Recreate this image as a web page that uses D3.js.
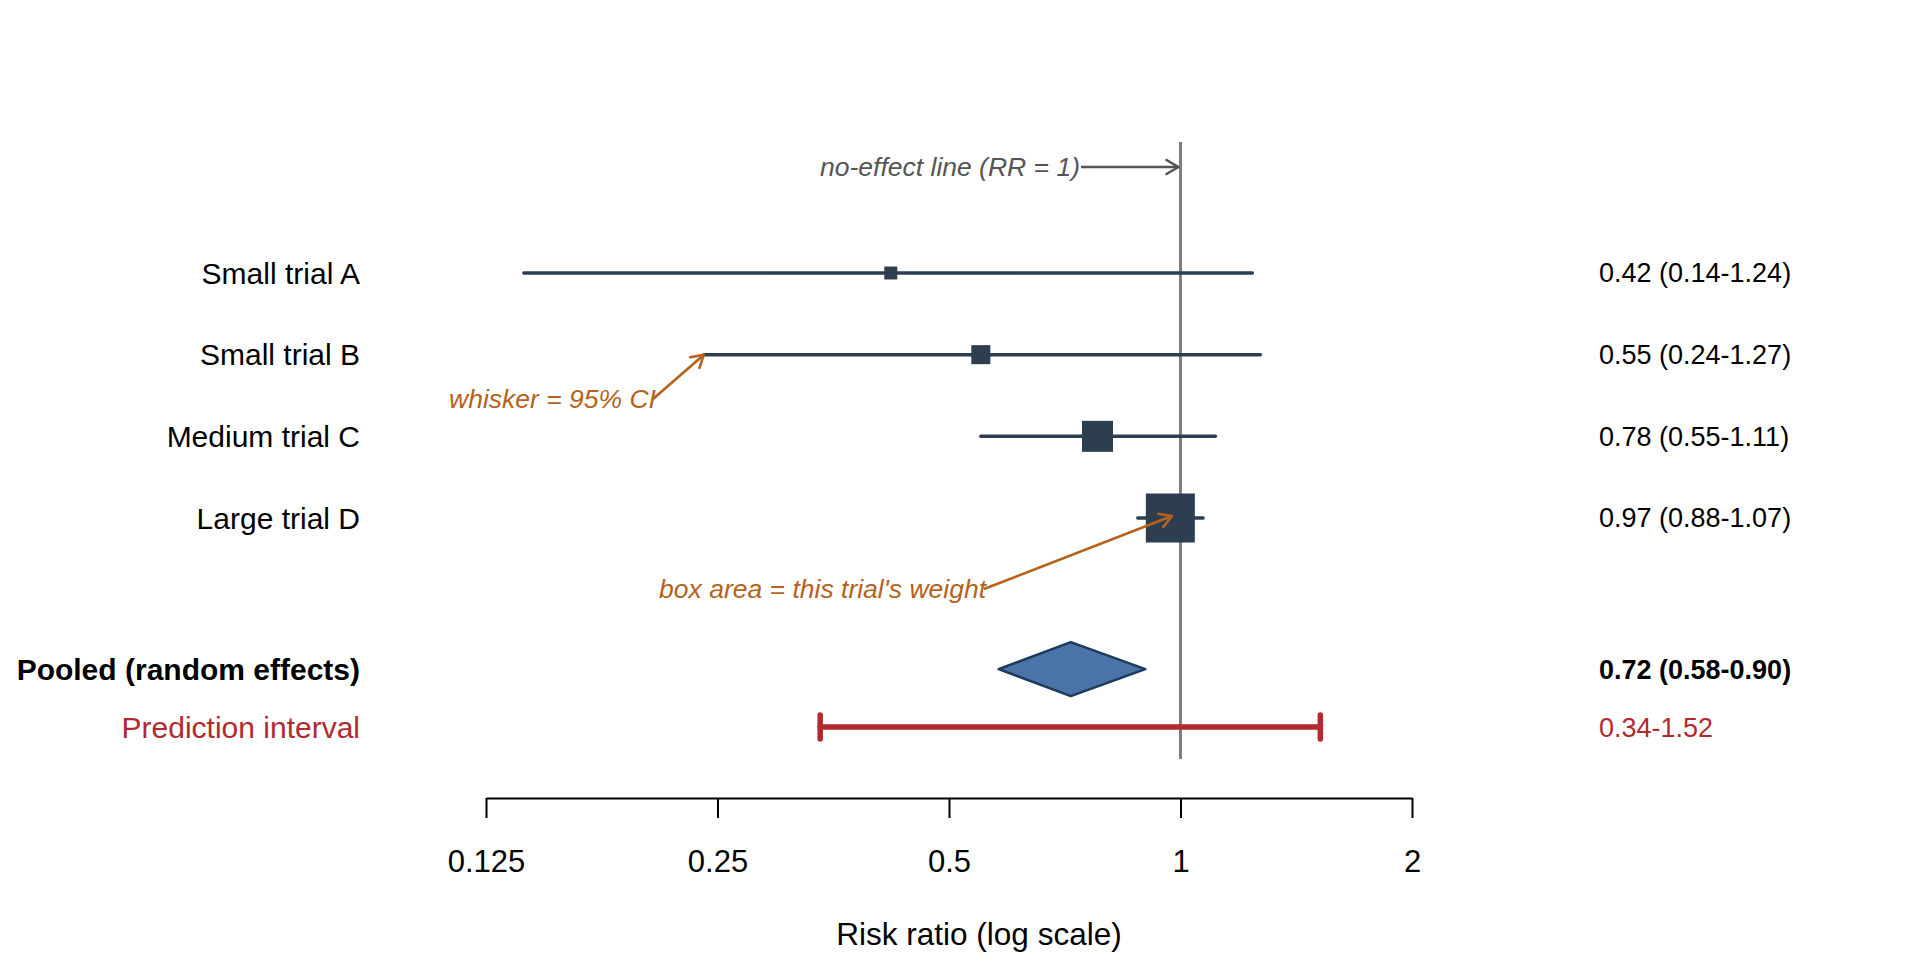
<!DOCTYPE html>
<html>
<head>
<meta charset="utf-8">
<script src="https://cdn.jsdelivr.net/npm/d3@7"></script>
<style>
  html, body { margin: 0; padding: 0; background: #fff; }
  svg { display: block; font-family: "Liberation Sans", Arial, Helvetica, sans-serif; }
</style>
</head>
<body>
<svg id="chart" width="1920" height="960"></svg>
<script>
// --- DATA ---
const trialNames = ["Small trial A", "Small trial B", "Medium trial C", "Large trial D"];
const trialRR    = [0.42, 0.55, 0.78, 0.97];
const trialLo    = [0.14, 0.24, 0.55, 0.88];
const trialHi    = [1.24, 1.27, 1.11, 1.07];
const trialWeight = [4.3, 9.3, 24.7, 61.7];   // % weight

const pooledLabel = "Pooled (random effects)";
const pooled = { rr: 0.72, lo: 0.58, hi: 0.90 };
const predLabel = "Prediction interval";
const pred = { lo: 0.34, hi: 1.52 };

const tickValues = [0.125, 0.25, 0.5, 1, 2];
const tickLabels = ["0.125", "0.25", "0.5", "1", "2"];

// --- CONFIG ---
const colors = {
  trial: "#2c3e50",
  ref: "#7f7f7f",
  refNote: "#555555",
  note: "#b5621b",
  diamondFill: "#4a74a8",
  diamondStroke: "#1c3a5e",
  pred: "#b2292e"
};

const svg = d3.select("#chart");

// log2 axis from 0.125 to 2
const x = d3.scaleLog().base(2).domain([0.125, 2]).range([486, 1412]);
// row positions: trials 0..3, pooled and prediction below a gap
const rowPos = [0, 1, 2, 3, 4.85, 5.56];
const y = d3.scaleLinear().domain([0, 3]).range([273, 518]);

const labelX = 360;
const textX = 1599;

// arrowhead markers (open V like base R arrows)
const defs = svg.append("defs");
function addArrow(id, color) {
  defs.append("marker")
    .attr("id", id)
    .attr("viewBox", "-14 -9 16 18")
    .attr("refX", 0).attr("refY", 0)
    .attr("markerWidth", 16).attr("markerHeight", 18)
    .attr("markerUnits", "userSpaceOnUse")
    .attr("orient", "auto")
    .append("path")
    .attr("d", "M-12,-7 L0,0 L-12,7")
    .attr("fill", "none")
    .attr("stroke", color)
    .attr("stroke-width", 2.6)
    .attr("stroke-linecap", "round")
    .attr("stroke-linejoin", "round");
}
addArrow("arrow-grey", colors.refNote);
addArrow("arrow-orange", colors.note);

// --- NO-EFFECT LINE ---
svg.append("line")
  .attr("x1", x(1)).attr("x2", x(1))
  .attr("y1", 142).attr("y2", 759)
  .attr("stroke", colors.ref)
  .attr("stroke-width", 3);

// --- AXIS ---
const axis = d3.axisBottom(x)
  .tickValues(tickValues)
  .tickFormat((d, i) => tickLabels[i])
  .tickSize(20)
  .tickSizeOuter(0)
  .tickPadding(32);

const gAxis = svg.append("g")
  .attr("transform", "translate(0,798)")
  .call(axis);
gAxis.select(".domain").attr("stroke", "#000").attr("stroke-width", 2);
gAxis.selectAll(".tick line").attr("stroke", "#000").attr("stroke-width", 2);
gAxis.selectAll(".tick text")
  .attr("fill", "#000")
  .style("font-size", "31px")
  .style("font-family", "'Liberation Sans', Arial, sans-serif");

svg.append("text")
  .attr("x", 979).attr("y", 945)
  .attr("text-anchor", "middle")
  .style("font-size", "31.5px")
  .text("Risk ratio (log scale)");

// --- TRIALS ---
const trials = trialNames.map((name, i) => ({
  name, rr: trialRR[i], lo: trialLo[i], hi: trialHi[i], w: trialWeight[i], pos: rowPos[i]
}));

// box side grows with sqrt(weight) so area tracks weight
const side = d3.scaleSqrt().domain([0, d3.max(trialWeight)]).range([0, 49]);

const gTrials = svg.append("g");
gTrials.selectAll(".ci")
  .data(trials)
  .join("line")
  .attr("class", "ci")
  .attr("x1", d => x(d.lo)).attr("x2", d => x(d.hi))
  .attr("y1", d => y(d.pos)).attr("y2", d => y(d.pos))
  .attr("stroke", colors.trial)
  .attr("stroke-width", 3.5)
  .attr("stroke-linecap", "round");

gTrials.selectAll(".box")
  .data(trials)
  .join("rect")
  .attr("class", "box")
  .attr("x", d => x(d.rr) - side(d.w) / 2)
  .attr("y", d => y(d.pos) - side(d.w) / 2)
  .attr("width", d => side(d.w))
  .attr("height", d => side(d.w))
  .attr("fill", colors.trial);

const fmt = d3.format(".2f");

gTrials.selectAll(".label")
  .data(trials)
  .join("text")
  .attr("class", "label")
  .attr("x", labelX).attr("y", d => y(d.pos))
  .attr("dy", "0.35em")
  .attr("text-anchor", "end")
  .style("font-size", "30px")
  .text(d => d.name);

gTrials.selectAll(".est")
  .data(trials)
  .join("text")
  .attr("class", "est")
  .attr("x", textX).attr("y", d => y(d.pos))
  .attr("dy", "0.35em")
  .style("font-size", "27px")
  .text(d => `${fmt(d.rr)} (${fmt(d.lo)}-${fmt(d.hi)})`);

// --- POOLED DIAMOND ---
const yp = y(rowPos[4]);
const halfH = 27;
svg.append("path")
  .attr("d", `M${x(pooled.lo)},${yp} L${x(pooled.rr)},${yp - halfH} L${x(pooled.hi)},${yp} L${x(pooled.rr)},${yp + halfH} Z`)
  .attr("fill", colors.diamondFill)
  .attr("stroke", colors.diamondStroke)
  .attr("stroke-width", 2.5)
  .attr("stroke-linejoin", "round");

svg.append("text")
  .attr("x", labelX).attr("y", yp).attr("dy", "0.35em")
  .attr("text-anchor", "end")
  .style("font-size", "30px").style("font-weight", "bold")
  .text(pooledLabel);

svg.append("text")
  .attr("x", textX).attr("y", yp).attr("dy", "0.35em")
  .style("font-size", "27px").style("font-weight", "bold")
  .text(`${fmt(pooled.rr)} (${fmt(pooled.lo)}-${fmt(pooled.hi)})`);

// --- PREDICTION INTERVAL ---
const yq = y(rowPos[5]);
const gPred = svg.append("g")
  .attr("stroke", colors.pred)
  .attr("stroke-width", 5.5)
  .attr("stroke-linecap", "round");
gPred.append("line")
  .attr("x1", x(pred.lo)).attr("x2", x(pred.hi))
  .attr("y1", yq).attr("y2", yq);
[pred.lo, pred.hi].forEach(v => {
  gPred.append("line")
    .attr("x1", x(v)).attr("x2", x(v))
    .attr("y1", yq - 12).attr("y2", yq + 12);
});

svg.append("text")
  .attr("x", labelX).attr("y", yq).attr("dy", "0.35em")
  .attr("text-anchor", "end")
  .attr("fill", colors.pred)
  .style("font-size", "30px")
  .text(predLabel);

svg.append("text")
  .attr("x", textX).attr("y", yq).attr("dy", "0.35em")
  .attr("fill", colors.pred)
  .style("font-size", "27px")
  .text(`${fmt(pred.lo)}-${fmt(pred.hi)}`);

// --- ANNOTATIONS ---
// no-effect line note
svg.append("text")
  .attr("x", 1080).attr("y", 167).attr("dy", "0.35em")
  .attr("text-anchor", "end")
  .attr("fill", colors.refNote)
  .style("font-size", "26.5px").style("font-style", "italic")
  .text("no-effect line (RR = 1)");
svg.append("line")
  .attr("x1", 1081).attr("y1", 167)
  .attr("x2", x(1) - 2).attr("y2", 167)
  .attr("stroke", colors.refNote).attr("stroke-width", 2.6)
  .attr("marker-end", "url(#arrow-grey)");

// whisker note, pointing to lower CI end of trial B
svg.append("text")
  .attr("x", 449).attr("y", 399).attr("dy", "0.35em")
  .attr("fill", colors.note)
  .style("font-size", "26.5px").style("font-style", "italic")
  .text("whisker = 95% CI");
svg.append("line")
  .attr("x1", 653).attr("y1", 399)
  .attr("x2", x(trials[1].lo)).attr("y2", y(trials[1].pos))
  .attr("stroke", colors.note).attr("stroke-width", 2.6)
  .attr("marker-end", "url(#arrow-orange)");

// box area note, pointing into trial D box
svg.append("text")
  .attr("x", 986).attr("y", 589).attr("dy", "0.35em")
  .attr("text-anchor", "end")
  .attr("fill", colors.note)
  .style("font-size", "26.5px").style("font-style", "italic")
  .text("box area = this trial's weight");
svg.append("line")
  .attr("x1", 984).attr("y1", 589)
  .attr("x2", 1172).attr("y2", 516)
  .attr("stroke", colors.note).attr("stroke-width", 2.6)
  .attr("marker-end", "url(#arrow-orange)");
</script>
</body>
</html>
